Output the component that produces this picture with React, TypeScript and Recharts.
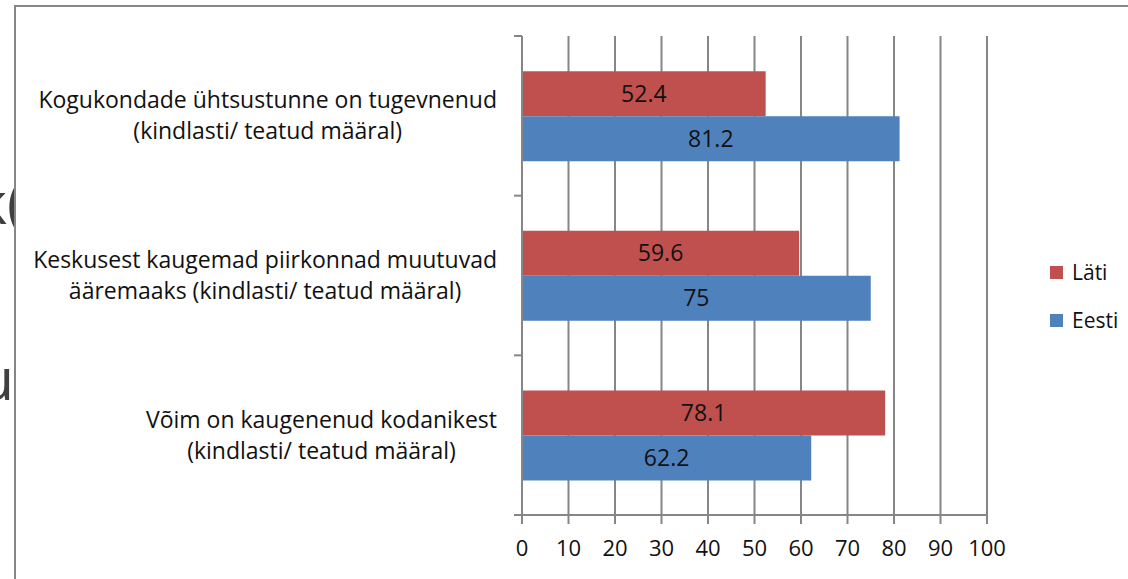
import React from 'react';
import { BarChart, Bar, XAxis, YAxis, CartesianGrid, Legend, LabelList } from 'recharts';

const categories = [
  'Kogukondade ühtsustunne on tugevnenud\n(kindlasti/ teatud määral)',
  'Keskusest kaugemad piirkonnad muutuvad\nääremaaks (kindlasti/ teatud määral)',
  'Võim on kaugenenud kodanikest\n(kindlasti/ teatud määral)',
];
const seriesNames = ['Läti', 'Eesti'];
const latiValues = [52.4, 59.6, 78.1];
const eestiValues = [81.2, 75, 62.2];
const xTicks = [0, 10, 20, 30, 40, 50, 60, 70, 80, 90, 100];

const data = categories.map((name, i) => ({ name, lati: latiValues[i], eesti: eestiValues[i] }));

const FONT = '"Open Sans", sans-serif';
const GRAY = '#868686';
const W = 1128;
const H = 579;
const TOP = 36;
const Y_AXIS_W = 522;
const X_AXIS_H = 64;
const BAND = (H - X_AXIS_H - TOP) / categories.length;

let ctx: CanvasRenderingContext2D | null = null;
function measure(text: string) {
  if (!ctx) {
    ctx = document.createElement('canvas').getContext('2d');
  }
  if (!ctx) return text.length * 11;
  ctx.font = `23px ${FONT}`;
  return ctx.measureText(text).width;
}

function CategoryTick(props: any) {
  const { x, y, payload } = props;
  const lines = String(payload.value).split('\n');
  const maxW = Math.max(...lines.map(measure));
  const cx = x - maxW / 2;
  const isLast = payload.value === categories[categories.length - 1];
  return (
    <g>
      <line x1={Y_AXIS_W - 8} x2={Y_AXIS_W} y1={y - BAND / 2} y2={y - BAND / 2} stroke={GRAY} strokeWidth={2} />
      {isLast && (
        <line x1={Y_AXIS_W - 8} x2={Y_AXIS_W} y1={y + BAND / 2} y2={y + BAND / 2} stroke={GRAY} strokeWidth={2} />
      )}
      <text textAnchor="middle" fontFamily={FONT} fontSize={23} fill="#111">
        {lines.map((l, i) => (
          <tspan key={i} x={cx} y={y + (i - (lines.length - 1) / 2) * 31} dy="0.35em">
            {l}
          </tspan>
        ))}
      </text>
    </g>
  );
}

function LegendContent(props: any) {
  // keep the series order (Läti first), recharts sorts by name otherwise
  const items = [...(props.payload || [])].sort(
    (a: any, b: any) => seriesNames.indexOf(a.value) - seriesNames.indexOf(b.value)
  );
  return (
    <div style={{ fontFamily: FONT, fontSize: 21, color: '#111' }}>
      {items.map((p: any) => (
        <div key={p.value} style={{ display: 'flex', alignItems: 'center', height: 48 }}>
          <span style={{ width: 13, height: 13, background: p.color, marginRight: 9, display: 'inline-block' }} />
          {p.value}
        </div>
      ))}
    </div>
  );
}

export default function App() {
  return (
    <div style={{ position: 'absolute', left: 0, top: 0, width: W, height: H, background: '#fff', overflow: 'hidden' }}>
      {/* fragments of slide text behind the chart frame */}
      <div style={{ position: 'absolute', left: 0, top: 162, width: 15, height: 90, overflow: 'hidden' }}>
        <span style={{ position: 'absolute', right: -9, top: 0, fontFamily: FONT, fontSize: 58, color: '#404040' }}>k(</span>
      </div>
      <div style={{ position: 'absolute', left: 0, top: 338, width: 15, height: 90, overflow: 'hidden' }}>
        <span style={{ position: 'absolute', right: 1, top: 0, fontFamily: FONT, fontSize: 58, color: '#404040' }}>u</span>
      </div>
      <div
        style={{
          position: 'absolute',
          left: 14,
          top: 5,
          width: W,
          height: H,
          borderLeft: `2px solid ${GRAY}`,
          borderTop: `2px solid ${GRAY}`,
          background: '#fff',
        }}
      />
      <div style={{ position: 'absolute', left: 0, top: 0 }}>
        <BarChart
          width={W}
          height={H}
          data={data}
          layout="vertical"
          margin={{ top: TOP, right: 141, bottom: 0, left: 0 }}
          barCategoryGap="22%"
          barGap={0}
        >
          <CartesianGrid horizontal={false} stroke={GRAY} strokeWidth={2} />
          <XAxis
            type="number"
            domain={[0, 100]}
            ticks={xTicks}
            interval={0}
            height={X_AXIS_H}
            tickSize={9}
            tickMargin={16}
            axisLine={{ stroke: GRAY, strokeWidth: 2 }}
            tickLine={{ stroke: GRAY, strokeWidth: 2 }}
            tick={{ fontFamily: FONT, fontSize: 22, fill: '#111' }}
          />
          <YAxis
            type="category"
            dataKey="name"
            width={Y_AXIS_W}
            interval={0}
            tickLine={false}
            tickSize={0}
            tickMargin={25}
            axisLine={{ stroke: GRAY, strokeWidth: 2 }}
            tick={<CategoryTick />}
          />
          <Legend
            layout="vertical"
            align="center"
            verticalAlign="middle"
            wrapperStyle={{ left: 1050, top: 248, width: 80 }}
            content={<LegendContent />}
          />
          <Bar dataKey="lati" name={seriesNames[0]} fill="#C0504D" isAnimationActive={false}>
            <LabelList dataKey="lati" position="center" fill="#111" fontFamily={FONT} fontSize={23} />
          </Bar>
          <Bar dataKey="eesti" name={seriesNames[1]} fill="#4F81BD" isAnimationActive={false}>
            <LabelList dataKey="eesti" position="center" fill="#111" fontFamily={FONT} fontSize={23} />
          </Bar>
        </BarChart>
      </div>
    </div>
  );
}
